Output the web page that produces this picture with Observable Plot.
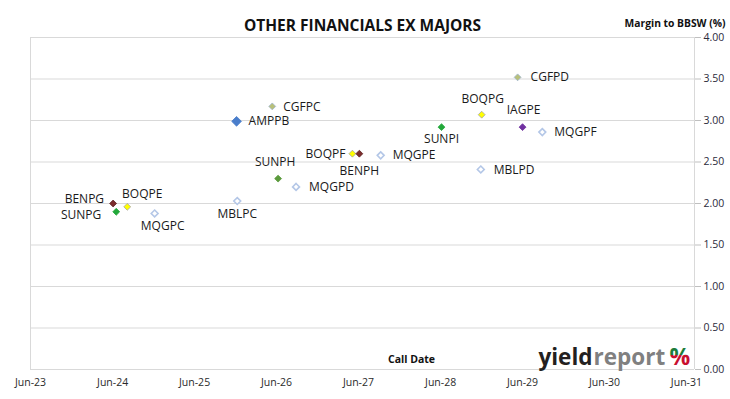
<!DOCTYPE html>
<html><head><meta charset="utf-8">
<script src="https://cdn.jsdelivr.net/npm/d3@7"></script>
<script src="https://cdn.jsdelivr.net/npm/@observablehq/plot@0.6"></script>
<style>body{margin:0;background:#fff;} svg{display:block;}</style>
</head><body><div id="chart"></div>
<script>
// ---- data ----
const codes = ["BENPG","SUNPG","BOQPE","MQGPC","MBLPC","AMPPB","CGFPC","SUNPH","MQGPD","BOQPF","BENPH","MQGPE","SUNPI","BOQPG","MBLPD","CGFPD","IAGPE","MQGPF"];
const callDates = ["2024-06-03","2024-06-17","2024-08-05","2024-12-05","2025-12-08","2025-12-05","2026-05-13","2026-06-08","2026-08-27","2027-05-05","2027-06-05","2027-09-08","2028-06-05","2028-12-01","2028-11-27","2029-05-10","2029-06-01","2029-08-28"];
const margins = [2.00,1.90,1.96,1.88,2.03,2.99,3.17,2.30,2.20,2.60,2.60,2.58,2.92,3.07,2.41,3.52,2.92,2.86];
const yTicks = [0,0.5,1,1.5,2,2.5,3,3.5,4];
const xTickDates = ["2023-06-01","2024-06-01","2025-06-01","2026-06-01","2027-06-01","2028-06-01","2029-06-01","2030-06-01","2031-06-01"];
const title = "OTHER FINANCIALS EX MAJORS";
const yTitle = "Margin to BBSW (%)";
const xTitle = "Call Date";

// ---- styles ----
const issuerStyle = {
  BEN: {fill:"#7b2d2d", stroke:"#5e2222"},
  BOQ: {fill:"#ffff00", stroke:"#a5a5a5"},
  SUN: {fill:"#22a83a", stroke:"#22a83a"},
  MQG: {fill:"#ffffff", stroke:"#b4c7e7"},
  MBL: {fill:"#ffffff", stroke:"#b4c7e7"},
  AMP: {fill:"#4a7ecb", stroke:"#4a7ecb"},
  CGF: {fill:"#b8c07a", stroke:"#9fb5d2"},
  IAG: {fill:"#7030a0", stroke:"#7030a0"}
};
const codeFill = {SUNPH:"#5b9a3c"};
const codeR = {AMPPB:4.4};
// label offsets: [dx, dy, anchor]
const labelOffset = {
  BENPG:[-9,-4,"end"], SUNPG:[-15,3,"end"], BOQPE:[15,-13,"middle"], MQGPC:[8,13,"middle"],
  MBLPC:[0,13,"middle"], AMPPB:[12,0,"start"], CGFPC:[11,1,"start"], SUNPH:[-3,-16,"middle"],
  MQGPD:[13,0,"start"], BOQPF:[-7,0,"end"], BENPH:[0,17,"middle"], MQGPE:[12,0,"start"],
  SUNPI:[0,12,"middle"], BOQPG:[1,-16,"middle"], MBLPD:[13,1,"start"], CGFPD:[13,0,"start"],
  IAGPE:[1,-17,"middle"], MQGPF:[12,0,"start"]
};

const data = codes.map((c,i) => {
  const s = issuerStyle[c.slice(0,3)];
  return {code:c, date:new Date(callDates[i]), margin:margins[i],
    fill: codeFill[c] || s.fill, stroke: codeFill[c] || s.stroke, r: codeR[c] || 3.1,
    sw: s.fill === "#ffffff" ? 1.6 : 0.8};
});

const font = "'Open Sans', 'Noto Sans', sans-serif";
const labelMarks = data.map(d => {
  const [dx, dy, anchor] = labelOffset[d.code];
  return Plot.text([d], {x:"date", y:"margin", text:"code", dx, dy, textAnchor:anchor, fontSize:12, fill:"#1a1a1a"});
});

const chart = Plot.plot({
  width:730, height:399,
  marginLeft:30, marginRight:36, marginTop:37, marginBottom:30,
  style:{fontFamily:font, background:"#fff", overflow:"visible"},
  x:{type:"utc", domain:[new Date("2023-06-01"), new Date("2031-07-07")]},
  y:{domain:[0,4]},
  color:{type:"identity"},
  r:{type:"identity"},
  marks:[
    Plot.gridY(yTicks, {stroke:"#d9d9d9", strokeOpacity:1}),
    Plot.ruleX([new Date("2023-06-01")], {stroke:"#d9d9d9"}),
    Plot.ruleX([new Date("2031-07-07")], {stroke:"#d9d9d9"}),
    Plot.axisY(yTicks, {anchor:"right", tickFormat:d=>d.toFixed(2), tickSize:6, tickPadding:3, stroke:"#bfbfbf", fill:"#2b2b3b", fontSize:10.5, label:null}),
    Plot.axisX(xTickDates.map(d=>new Date(d)), {anchor:"bottom", tickFormat:d3.utcFormat("%b-%y"), tickSize:0, tickPadding:9, fill:"#2b2b2b", fontSize:10.5, label:null}),
    Plot.dot(data, {x:"date", y:"margin", symbol:"diamond2", r:"r", fill:"fill", stroke:"stroke", strokeWidth:"sw"}),
    ...labelMarks,
    Plot.text([title], {frameAnchor:"top", dy:-18, fontSize:15.5, fontWeight:"bold", fill:"#111", text:d=>d}),
    Plot.text([yTitle], {frameAnchor:"top-right", textAnchor:"end", dx:31, dy:-18, fontSize:10.3, fontWeight:"bold", fill:"#111", text:d=>d}),
    Plot.text([xTitle], {frameAnchor:"bottom", dx:49, dy:-7, fontSize:10.5, fontWeight:"bold", fill:"#111", text:d=>d}),
    Plot.text(["yield"], {frameAnchor:"bottom-right", textAnchor:"end", lineAnchor:"bottom", dx:-102, dy:-5, fontSize:22.5, fontWeight:"bold", fill:"#231f20", text:d=>d}),
    Plot.text(["report"], {frameAnchor:"bottom-right", textAnchor:"start", lineAnchor:"bottom", dx:-101, dy:-5, fontSize:22.5, fontWeight:"bold", fill:"#808080", text:d=>d}),
    Plot.text(["%"], {frameAnchor:"bottom-right", textAnchor:"start", lineAnchor:"bottom", dx:-25, dy:-5, fontSize:23, fontWeight:"bold", fill:"url(#pctGrad)", text:d=>d})
  ]
});
const defs = d3.select(chart).insert("defs", ":first-child");
const g = defs.append("linearGradient").attr("id","pctGrad").attr("x1",0).attr("y1",0).attr("x2",0).attr("y2",1);
g.append("stop").attr("offset","0%").attr("stop-color","#1e7b3a");
g.append("stop").attr("offset","50%").attr("stop-color","#1e7b3a");
g.append("stop").attr("offset","50%").attr("stop-color","#c8102e");
g.append("stop").attr("offset","100%").attr("stop-color","#c8102e");
document.getElementById("chart").appendChild(chart);
</script>
</body></html>
